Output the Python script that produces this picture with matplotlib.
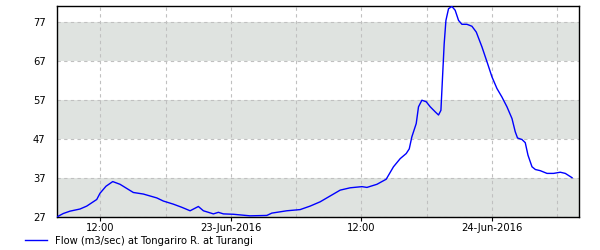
import pandas as pd
import matplotlib.pyplot as plt
import matplotlib.dates as mdates

# hours after 22-Jun-2016 08:00 and flow (m3/sec)
hours = [0, 0.61, 1.22, 2.14, 2.76, 3.68, 3.98, 4.53, 5.15, 5.82, 7.04, 7.96,
         9.20, 9.80, 10.72, 11.49, 12.26, 13.02, 13.48, 14.40, 14.86, 15.32,
         16.24, 17.77, 19.31, 19.77, 21.15, 22.37, 23.29, 24.21, 25.13, 26.05,
         26.97, 28.05, 28.51, 29.43, 30.28, 30.95, 31.57, 32.12, 32.40, 32.64,
         33.04, 33.25, 33.56, 33.96, 34.33, 34.79, 35.09, 35.31, 35.46, 35.61,
         35.77, 36.01, 36.32, 36.62, 36.93, 37.24, 37.70, 38.16, 38.56, 39.08,
         39.60, 40.00, 40.46, 40.92, 41.38, 41.84, 42.14, 42.35, 42.76, 43.06,
         43.31, 43.68, 43.99, 44.44, 45.06, 45.66, 46.28, 46.74, 47.36]
flow = [27.0, 27.9, 28.5, 29.05, 29.8, 31.5, 33.1, 34.9, 36.1, 35.4, 33.3, 32.9,
        31.9, 31.1, 30.3, 29.5, 28.6, 29.7, 28.6, 27.8, 28.2, 27.8,
        27.7, 27.3, 27.4, 28.0, 28.6, 28.9, 29.8, 30.9, 32.4, 33.9,
        34.5, 34.8, 34.6, 35.4, 36.7, 39.9, 42.0, 43.3, 44.5, 47.6,
        51.0, 55.3, 57.0, 56.6, 55.3, 54.0, 53.2, 54.4, 63.0, 71.5,
        77.5, 80.5, 81.1, 80.1, 77.5, 76.5, 76.5, 76.0, 74.5, 70.7,
        66.4, 63.0, 60.0, 57.8, 55.3, 52.3, 48.9, 47.3, 46.9, 46.1,
        42.9, 39.9, 39.2, 38.9, 38.2, 38.2, 38.5, 38.2, 37.1]
yticks = [27, 37, 47, 57, 67, 77]
gray_bands = [(27, 37), (47, 57), (67, 77)]

start = pd.Timestamp('2016-06-22 08:00')
times = start + pd.to_timedelta(hours, unit='h')

plt.rcParams['font.family'] = 'DejaVu Sans'
fig = plt.figure(figsize=(6, 2.5), dpi=100)
ax = fig.add_axes([0.0945, 0.132, 0.8705, 0.844])

for lo, hi in gray_bands:
    ax.axhspan(lo, hi, color='#dfe3e0', zorder=0, lw=0)

ax.plot(times, flow, color='#0000ff', lw=1.0, label='Flow (m3/sec) at Tongariro R. at Turangi', zorder=3)

ax.set_xlim(start, start + pd.Timedelta(hours=48))
ax.set_ylim(27, 81.2)
ax.set_yticks(yticks)
ax.tick_params(axis='y', length=0, labelsize=7.2, pad=8)

ax.xaxis.set_major_locator(mdates.HourLocator(byhour=[0, 12]))
ax.xaxis.set_minor_locator(mdates.HourLocator(byhour=[6, 18]))
def fmt(x, pos=None):
    d = mdates.num2date(x)
    return d.strftime('%d-%b-%Y') if d.hour == 0 else d.strftime('%H:%M')
ax.xaxis.set_major_formatter(plt.FuncFormatter(fmt))
ax.tick_params(axis='x', which='major', length=3, labelsize=7.2, pad=1.5)
ax.tick_params(axis='x', which='minor', length=0)

ax.grid(True, which='both', axis='x', color='#c0c0c0', ls=(0, (3, 3)), lw=0.8)
ax.grid(True, which='major', axis='y', color='#c0c0c0', ls=(0, (3, 3)), lw=0.8)
ax.set_axisbelow(True)
for s in ax.spines.values():
    s.set_color('black')
    s.set_linewidth(1.0)

fig.legend(loc='upper left', bbox_to_anchor=(0.042, 0.058), frameon=False,
           fontsize=7.2, handlelength=2.2, handletextpad=0.8, borderaxespad=0,
           borderpad=0)

fig.savefig('out.png', dpi=100)
